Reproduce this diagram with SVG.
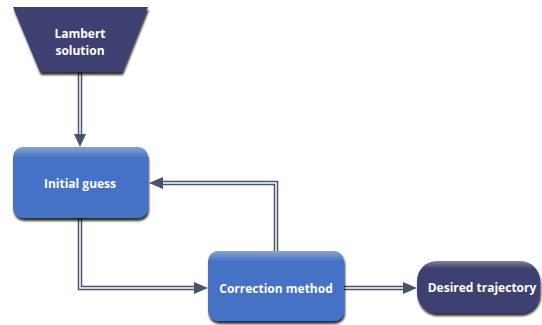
<svg xmlns="http://www.w3.org/2000/svg" width="542" height="325" viewBox="0 0 542 325">
<defs>
<filter id="sh" x="-20%" y="-20%" width="140%" height="150%">
<feDropShadow dx="1" dy="3" stdDeviation="1.2" flood-color="#000" flood-opacity="0.8"/>
</filter>
<linearGradient id="gl" x1="0" y1="0" x2="0" y2="1">
<stop offset="0" stop-color="#fff" stop-opacity="0.35"/>
<stop offset="0.15" stop-color="#fff" stop-opacity="0"/>
<stop offset="1" stop-color="#fff" stop-opacity="0"/>
</linearGradient>
</defs>
<style>
.lbl{font-family:"Open Sans","Liberation Sans",sans-serif;font-weight:bold;font-size:12px;fill:#fff;text-anchor:middle;dominant-baseline:central}
.blue{fill:#4472C4}
.dark{fill:#3E4070}
.out{fill:none;stroke:#44546A;stroke-width:4.5}
.in{fill:none;stroke:#fff;stroke-width:1.5}
.ah{fill:#44546A}
</style>
<g id="connectors">
<path class="out" d="M80,72 V136"/><path class="in" d="M80,72 V136"/>
<polygon class="ah" points="74,134 86,134 80,147"/>
<path class="out" d="M276,251 V183 H161"/><path class="in" d="M276,251 V183 H161"/>
<polygon class="ah" points="163,177 163,189 149,183"/>
<path class="out" d="M80,218 V288 H196"/><path class="in" d="M80,218 V288 H196"/>
<polygon class="ah" points="194,282 194,294 208,288"/>
<path class="out" d="M344,288 H405"/><path class="in" d="M344,288 H405"/>
<polygon class="ah" points="403,282 403,294 417,288"/>
</g>
<g id="lambert">
<polygon class="dark" filter="url(#sh)" points="13,7 148,7 122,72 40,72"/>
<text class="lbl" x="80" y="33">Lambert</text>
<text class="lbl" x="80" y="50">solution</text>
</g>
<g id="initial">
<rect class="blue" filter="url(#sh)" x="13" y="147" width="135" height="71" rx="10"/>
<rect fill="url(#gl)" x="13" y="147" width="135" height="71" rx="10"/>
<text class="lbl" x="80" y="183">Initial guess</text>
</g>
<g id="correction">
<rect class="blue" filter="url(#sh)" x="208" y="251" width="136" height="70" rx="10"/>
<rect fill="url(#gl)" x="208" y="251" width="136" height="70" rx="10"/>
<text class="lbl" x="276" y="288">Correction method</text>
</g>
<g id="desired">
<rect class="dark" filter="url(#sh)" x="417" y="261" width="123" height="52" rx="20"/>
<rect fill="url(#gl)" x="417" y="261" width="123" height="52" rx="20"/>
<text class="lbl" x="482" y="287">Desired trajectory</text>
</g>
</svg>
